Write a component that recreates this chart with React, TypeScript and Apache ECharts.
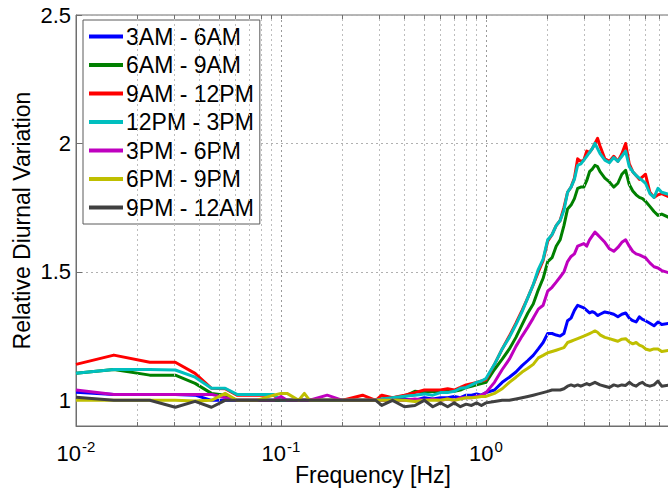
import React, { useEffect, useRef } from 'react';
import * as echarts from 'echarts';

const freqHz = [0.01, 0.0153, 0.0229, 0.0305, 0.0381, 0.0458, 0.0534, 0.061,
  0.076, 0.092, 0.1, 0.107, 0.122, 0.13, 0.138, 0.168, 0.2, 0.25, 0.29, 0.31,
  0.35, 0.4, 0.45, 0.5, 0.55, 0.6, 0.65, 0.7, 0.75, 0.8, 0.85, 0.9, 0.95, 1.0,
  1.1, 1.2, 1.3, 1.4, 1.5, 1.6, 1.7, 1.8, 1.9, 2.0,
  2.1, 2.2, 2.3, 2.4, 2.5, 2.6, 2.7, 2.8, 2.9, 3.0, 3.1, 3.2, 3.3, 3.4, 3.5, 3.6,
  3.8, 4.0, 4.2, 4.4, 4.6, 4.8, 5.0, 5.2, 5.4, 5.6, 5.8, 6.0,
  6.3, 6.6, 6.9, 7.2, 7.9];

const am3to6 = [1.031, 1.023, 1.023, 1.023, 1.02, 1.0, 1.0, 1.0,
  1, 1, 1, 1, 1, 1, 1, 1, 1, 1, 1, 1,
  1.0, 1.005, 1.0, 1.01, 1.005, 1.01, 1.01, 1.015, 1.01, 1.02, 1.02, 1.025, 1.02, 1.03,
  1.04, 1.07, 1.09, 1.11, 1.135, 1.155, 1.175, 1.2, 1.225, 1.26,
  1.26, 1.254, 1.25, 1.26, 1.31, 1.32, 1.35, 1.37, 1.365, 1.36, 1.35, 1.34, 1.345, 1.34, 1.33, 1.335,
  1.344, 1.34, 1.335, 1.325, 1.335, 1.34, 1.32, 1.31, 1.305, 1.325, 1.315, 1.31,
  1.30, 1.29, 1.305, 1.295, 1.30];

const am6to9 = [1.105, 1.12, 1.098, 1.098, 1.066, 1.027, 1.02, 1.0,
  1, 1, 1, 1, 1, 1, 1, 1, 1, 1, 1, 1.005,
  1.01, 1.015, 1.035, 1.03, 1.035, 1.03, 1.04, 1.035, 1.04, 1.05, 1.055, 1.06, 1.065, 1.07,
  1.12, 1.16, 1.2, 1.245, 1.295, 1.34, 1.375, 1.43, 1.475, 1.54,
  1.555, 1.6, 1.625, 1.68, 1.745, 1.76, 1.785, 1.825, 1.83, 1.83, 1.855, 1.89, 1.9, 1.915, 1.91, 1.89,
  1.865, 1.85, 1.83, 1.845, 1.88, 1.895, 1.84, 1.815, 1.8, 1.79, 1.785, 1.775,
  1.755, 1.735, 1.72, 1.725, 1.71];

const am9to12 = [1.14, 1.176, 1.148, 1.148, 1.105, 1.047, 1.045, 1.02,
  1.02, 1.02, 1, 1, 1, 1, 1, 1, 1, 1.02, 1, 1.02,
  1.01, 1.02, 1.03, 1.04, 1.04, 1.04, 1.045, 1.04, 1.05, 1.06, 1.065, 1.07, 1.075, 1.08,
  1.14, 1.2, 1.25, 1.3, 1.35, 1.4, 1.45, 1.5, 1.545, 1.62,
  1.645, 1.68, 1.7, 1.75, 1.81, 1.83, 1.865, 1.94, 1.93, 1.935, 1.97, 1.965, 1.98, 2.0, 2.02, 1.99,
  1.94, 1.93, 1.95, 1.93, 1.96, 2.0, 1.92, 1.89, 1.875, 1.86, 1.87, 1.88,
  1.81, 1.79, 1.8, 1.805, 1.79];

const pm12to3 = [1.105, 1.12, 1.12, 1.118, 1.09, 1.047, 1.047, 1.023,
  1.023, 1.023, 1, 1, 1, 1, 1, 1, 1, 1, 1, 1.005,
  1.01, 1.016, 1.02, 1.025, 1.02, 1.03, 1.03, 1.035, 1.047, 1.05, 1.06, 1.07, 1.075, 1.085,
  1.14, 1.2, 1.245, 1.295, 1.345, 1.4, 1.45, 1.51, 1.55, 1.625,
  1.645, 1.68, 1.7, 1.74, 1.81, 1.83, 1.86, 1.915, 1.92, 1.935, 1.95, 1.965, 1.98, 2.0, 1.98, 1.96,
  1.935, 1.925, 1.945, 1.93, 1.95, 1.97, 1.91, 1.89, 1.875, 1.865, 1.855, 1.845,
  1.805, 1.79, 1.825, 1.81, 1.8];

const pm3to6 = [1.04, 1.023, 1.023, 1.023, 1.023, 1.023, 1.01, 1.0,
  1, 1, 1.015, 1, 1, 1, 1, 1.02, 1, 1, 1, 1,
  1.0, 1.0, 1.005, 1.0, 1.005, 1.0, 1.005, 1.0, 1.01, 1.01, 1.01, 1.015, 1.02, 1.03,
  1.07, 1.12, 1.16, 1.21, 1.25, 1.285, 1.32, 1.355, 1.37, 1.425,
  1.44, 1.46, 1.48, 1.5, 1.54, 1.56, 1.57, 1.6, 1.605, 1.61, 1.6, 1.625, 1.64, 1.655, 1.645, 1.635,
  1.615, 1.59, 1.58, 1.595, 1.615, 1.625, 1.6, 1.58, 1.57, 1.566, 1.56, 1.555,
  1.535, 1.52, 1.515, 1.505, 1.495];

const pm6to9 = [1.0, 1.0, 1.0, 1.0, 0.997, 1.0, 1.027, 1.0,
  1.0, 1.02, 1.027, 1.027, 1.0, 1.027, 1.0, 1.0, 1.0, 1.0, 1.0, 1.0,
  1.0, 1.0, 0.995, 1.0, 1.0, 1.0, 1.005, 1.0, 1.005, 1.01, 1.01, 1.012, 1.015, 1.015,
  1.027, 1.045, 1.07, 1.09, 1.11, 1.125, 1.14, 1.165, 1.175, 1.185,
  1.19, 1.195, 1.2, 1.205, 1.225, 1.23, 1.235, 1.24, 1.245, 1.25, 1.255, 1.26, 1.265, 1.27, 1.265, 1.255,
  1.245, 1.24, 1.235, 1.23, 1.238, 1.24, 1.227, 1.22, 1.225, 1.215, 1.21, 1.2,
  1.195, 1.2, 1.2, 1.19, 1.195];

const pm9to12 = [1.012, 1.0, 1.0, 0.973, 0.996, 0.973, 1.0, 1.0,
  1, 1, 1, 1, 1, 1, 1, 1, 1, 1, 1, 0.98,
  1.0, 0.975, 0.98, 1.0, 0.975, 0.99, 0.975, 0.99, 0.975, 0.985, 0.98, 0.99, 0.98, 0.99,
  0.995, 1.0, 1.0, 1.005, 1.01, 1.015, 1.02, 1.025, 1.03, 1.035,
  1.04, 1.04, 1.04, 1.045, 1.055, 1.06, 1.055, 1.06, 1.055, 1.06, 1.065, 1.06, 1.065, 1.07, 1.065, 1.06,
  1.055, 1.05, 1.06, 1.055, 1.06, 1.058, 1.07, 1.06, 1.055, 1.065, 1.07, 1.06,
  1.055, 1.06, 1.075, 1.055, 1.06];

const seriesNames = ['3AM - 6AM', '6AM - 9AM', '9AM - 12PM', '12PM - 3PM', '3PM - 6PM', '6PM - 9PM', '9PM - 12AM'];
const seriesValues = [am3to6, am6to9, am9to12, pm12to3, pm3to6, pm6to9, pm9to12];
const seriesColors = ['#0000ff', '#008000', '#ff0000', '#00bfbf', '#bf00bf', '#bfbf00', '#404040'];

const minorFreqs = [0.02, 0.03, 0.04, 0.05, 0.06, 0.07, 0.08, 0.09,
  0.2, 0.3, 0.4, 0.5, 0.6, 0.7, 0.8, 0.9, 2, 3, 4, 5, 6, 7];
const majorFreqs = [0.01, 0.1, 1];

const yMin = 0.9;
const yMax = 2.5;
const xMin = 0.01;
const xMax = 7.9;

const FONT = "'Liberation Sans', Arial, Helvetica, sans-serif";
const AXIS_COLOR = '#6f6f6f';

export default function App() {
  const ref = useRef<HTMLDivElement>(null);

  useEffect(() => {
    const chart = echarts.init(ref.current as HTMLDivElement, null, { renderer: 'svg' });
    const tickLen = 4 / 257;

    const tickLines: any[] = [];
    minorFreqs.concat(majorFreqs.slice(1)).forEach((f) => {
      tickLines.push([{ coord: [f, yMin] }, { coord: [f, yMin + tickLen] }]);
      tickLines.push([{ coord: [f, yMax] }, { coord: [f, yMax - tickLen] }]);
    });

    const dataSeries = seriesNames.map((name, k) => ({
      name,
      type: 'line',
      data: freqHz.map((f, i) => [f, seriesValues[k][i]]),
      showSymbol: false,
      symbol: 'none',
      z: 3 + k,
      lineStyle: { width: 3, color: seriesColors[k], join: 'round' },
      itemStyle: { color: seriesColors[k] },
    }));

    chart.setOption({
      animation: false,
      textStyle: { fontFamily: FONT },
      grid: {
        left: 76, right: -2, top: 15, bottom: 62,
        containLabel: false,
        outerBoundsMode: 'none',
        show: true, borderColor: AXIS_COLOR, borderWidth: 1, backgroundColor: '#ffffff',
      },
      legend: {
        data: seriesNames,
        orient: 'vertical',
        left: 83,
        top: 20,
        itemWidth: 34,
        itemHeight: 4,
        itemGap: 5.5,
        icon: 'rect',
        padding: [5, 6, 5, 6],
        backgroundColor: '#ffffff',
        borderColor: '#5a5a5a',
        borderWidth: 1,
        textStyle: { fontSize: 23, color: '#000', fontFamily: FONT, padding: [0, 0, 0, -2] },
      },
      xAxis: {
        type: 'log',
        logBase: 10,
        min: xMin,
        max: xMax,
        name: 'Frequency [Hz]',
        nameLocation: 'middle',
        nameGap: 37,
        nameMoveOverlap: false,
        nameTextStyle: { fontSize: 23, color: '#000', fontFamily: FONT },
        axisLine: { show: true, lineStyle: { color: AXIS_COLOR, width: 1 } },
        axisTick: { show: true, inside: true, length: 6, lineStyle: { color: AXIS_COLOR } },
        splitLine: { show: true, lineStyle: { color: '#9a9a9a', type: [2, 3], width: 1 } },
        axisLabel: {
          margin: 13,
          showMaxLabel: false,
          color: '#000',
          formatter: (v: number) => {
            const e = Math.log10(v);
            const r = Math.round(e);
            if (Math.abs(e - r) > 1e-6) return '';
            return `{b|10}{s|${r}}`;
          },
          rich: {
            b: { fontSize: 22, fontFamily: FONT, color: '#000', verticalAlign: 'bottom' },
            s: { fontSize: 15, fontFamily: FONT, color: '#000', verticalAlign: 'bottom', padding: [0, 0, 10, 1] },
          },
        },
      },
      yAxis: {
        type: 'value',
        min: yMin,
        max: yMax,
        splitNumber: 3,
        name: 'Relative Diurnal Variation',
        nameLocation: 'middle',
        nameGap: 43,
        nameMoveOverlap: false,
        nameTextStyle: { fontSize: 23, color: '#000', fontFamily: FONT },
        axisLine: { show: true, lineStyle: { color: AXIS_COLOR, width: 1 } },
        axisTick: { show: true, inside: true, length: 6, lineStyle: { color: AXIS_COLOR } },
        splitLine: { show: true, lineStyle: { color: '#b0b0b0', type: [2, 3], width: 1 } },
        axisLabel: {
          margin: 5,
          showMinLabel: false,
          fontSize: 22,
          color: '#000',
          fontFamily: FONT,
          formatter: (v: number) => (Math.abs(v - yMin) < 1e-6 ? '' : String(v)),
        },
      },
      series: [
        {
          type: 'line',
          data: [],
          silent: true,
          z: 1,
          markLine: {
            silent: true,
            symbol: 'none',
            animation: false,
            label: { show: false },
            lineStyle: { color: '#bdbdbd', type: [2, 3], width: 1 },
            data: minorFreqs.map((f) => ({ xAxis: f })),
          },
        },
        {
          type: 'line',
          data: [],
          silent: true,
          z: 12,
          markLine: {
            silent: true,
            symbol: 'none',
            animation: false,
            label: { show: false },
            lineStyle: { color: AXIS_COLOR, type: 'solid', width: 1 },
            data: tickLines,
          },
        },
        ...dataSeries,
      ],
    });

    return () => chart.dispose();
  }, []);

  return (
    <div
      ref={ref}
      style={{ position: 'absolute', left: 0, top: 0, width: 668, height: 488, background: '#fff' }}
    />
  );
}
